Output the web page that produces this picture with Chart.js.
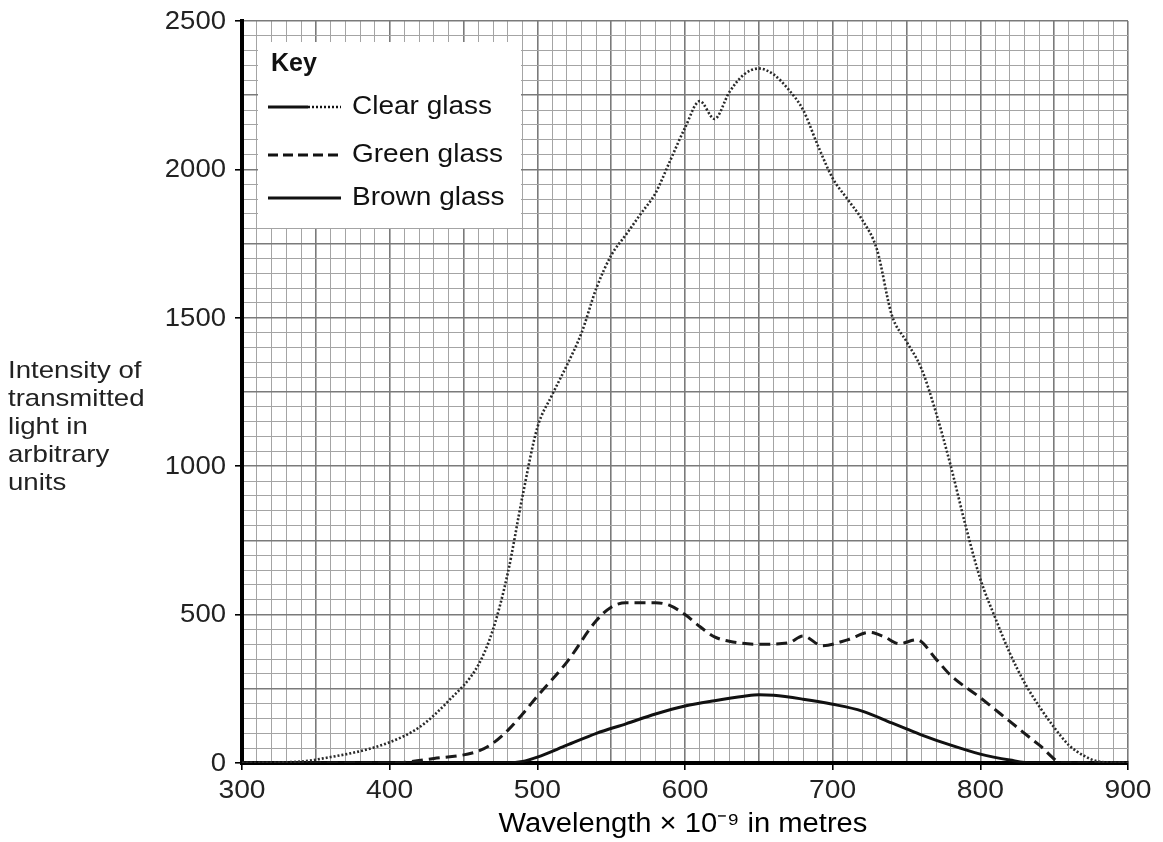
<!DOCTYPE html>
<html>
<head>
<meta charset="utf-8">
<script src="https://cdn.jsdelivr.net/npm/chart.js@4.4.1/dist/chart.umd.min.js"></script>
<style>
  html, body { margin: 0; padding: 0; background: #fff; }
  #wrap { width: 1163px; height: 842px; position: relative; }
</style>
</head>
<body>
<div id="wrap"><canvas id="grafico"></canvas></div>
<script>
// Datos (longitud de onda x 10^-9 m, intensidad)
const clearX = [300, 340, 360, 380, 400, 420, 440, 460, 470, 480, 490, 500, 510, 520, 530, 540, 550, 560, 570, 580, 590, 600, 610, 620, 630, 640, 650, 660, 670, 680, 690, 700, 710, 720, 730, 740, 750, 760, 770, 780, 790, 800, 810, 820, 830, 840, 850, 860, 870, 880, 900];
const clearY = [0, 5, 20, 40, 70, 120, 210, 330, 450, 640, 900, 1130, 1240, 1340, 1450, 1600, 1710, 1780, 1850, 1920, 2030, 2140, 2230, 2170, 2260, 2320, 2340, 2320, 2270, 2200, 2080, 1970, 1900, 1830, 1730, 1510, 1420, 1330, 1180, 1000, 800, 620, 490, 370, 270, 190, 120, 60, 25, 5, 0];

const greenX = [300, 400, 430, 460, 470, 480, 490, 500, 520, 540, 550, 560, 580, 590, 600, 610, 620, 630, 650, 670, 680, 693, 710, 725, 735, 745, 757, 770, 780, 800, 820, 840, 856, 900];
const greenY = [0, 0, 15, 40, 67, 110, 165, 225, 340, 480, 525, 540, 540, 530, 500, 460, 425, 410, 400, 405, 428, 395, 415, 440, 425, 402, 415, 350, 295, 220, 140, 60, 0, 0];

const brownX = [300, 480, 490, 500, 520, 540, 560, 580, 600, 620, 640, 650, 660, 680, 700, 720, 740, 750, 760, 780, 800, 820, 835, 900];
const brownY = [0, 0, 5, 20, 60, 100, 132, 165, 192, 210, 225, 230, 228, 215, 198, 175, 135, 115, 95, 60, 30, 10, 0, 0];

const xTicks = [300, 400, 500, 600, 700, 800, 900];
const yTicks = [0, 500, 1000, 1500, 2000, 2500];

const serieNombres = ['Clear glass', 'Green glass', 'Brown glass'];
const ejeYTitulo = ['Intensity of', 'transmitted', 'light in', 'arbitrary', 'units'];
const ejeXTitulo = 'Wavelength \u00d7 10\u207b\u2079 in metres';

const fuente = "'Liberation Sans', Arial, sans-serif";

function puntos(xs, ys) {
    return xs.map((x, i) => ({ x: x, y: ys[i] }));
}

// texto algo ensanchado, como en el original
function texto(ctx, s, x, y, size, sx, align, peso) {
    ctx.save();
    ctx.font = (peso || 'normal') + ' ' + size + 'px ' + fuente;
    ctx.textAlign = align;
    ctx.translate(x, y);
    ctx.scale(sx, 1);
    ctx.fillText(s, 0, 0);
    ctx.restore();
}

// Plugin: fondo, etiquetas, titulos y la caja "Key"
const extras = {
    id: 'extras',
    beforeDraw(chart) {
        const ctx = chart.ctx;
        ctx.save();
        ctx.fillStyle = '#fff';
        ctx.fillRect(0, 0, chart.width, chart.height);
        ctx.restore();
    },
    beforeDatasetsDraw(chart) {
        const ctx = chart.ctx;
        const sx = chart.scales.x, sy = chart.scales.y;
        ctx.save();
        ctx.textBaseline = 'alphabetic';

        // etiquetas de los ejes
        ctx.fillStyle = '#222';
        xTicks.forEach(v => texto(ctx, String(v), sx.getPixelForValue(v), 798, 25, 1.13, 'center'));
        ctx.textBaseline = 'middle';
        yTicks.forEach(v => texto(ctx, String(v), 226, sy.getPixelForValue(v) + 1, 25, 1.1, 'right'));

        // caja de la leyenda
        ctx.fillStyle = '#fff';
        ctx.fillRect(258, 42, 263, 186);
        ctx.fillStyle = '#111';
        texto(ctx, 'Key', 271, 64, 25, 1.0, 'left', 'bold');
        const ys = [107, 155, 198];
        ys.forEach((y, i) => texto(ctx, serieNombres[i], 352, y, 25, 1.12, 'left'));

        ctx.strokeStyle = '#111';
        ctx.lineWidth = 3;
        // clear glass: solido y luego punteado
        ctx.beginPath(); ctx.moveTo(268, 107); ctx.lineTo(308, 107); ctx.stroke();
        ctx.setLineDash([2, 2]); ctx.lineWidth = 2.5;
        ctx.beginPath(); ctx.moveTo(308, 107); ctx.lineTo(341, 107); ctx.stroke();
        ctx.setLineDash([10, 5]); ctx.lineWidth = 3;
        ctx.beginPath(); ctx.moveTo(268, 155); ctx.lineTo(341, 155); ctx.stroke();
        ctx.setLineDash([]);
        ctx.beginPath(); ctx.moveTo(268, 198); ctx.lineTo(341, 198); ctx.stroke();

        // titulo eje y
        ctx.fillStyle = '#222';
        ejeYTitulo.forEach((t, i) => texto(ctx, t, 8, 371 + i * 28, 24, 1.15, 'left'));
        // titulo eje x
        ctx.fillStyle = '#000';
        ctx.textBaseline = 'alphabetic';
        texto(ctx, ejeXTitulo, 683, 832, 27, 1.08, 'center');
        ctx.restore();
    }
};

function colorX(c) {
    const v = c.tick ? c.tick.value : 0;
    return v % 50 === 0 ? '#7a7a7a' : '#a4a4a4';
}
function colorY(c) {
    const v = c.tick ? c.tick.value : 0;
    return v % 250 === 0 ? '#7a7a7a' : '#a4a4a4';
}

new Chart(document.getElementById('grafico').getContext('2d'), {
    type: 'line',
    data: {
        datasets: [
            {
                label: serieNombres[0],
                data: puntos(clearX, clearY),
                borderColor: '#2a2a2a',
                borderWidth: 2.6,
                borderDash: [2, 2],
                pointRadius: 0,
                cubicInterpolationMode: 'monotone',
                fill: false
            },
            {
                label: serieNombres[1],
                data: puntos(greenX, greenY),
                borderColor: '#1a1a1a',
                borderWidth: 3,
                borderDash: [11, 6],
                pointRadius: 0,
                cubicInterpolationMode: 'monotone',
                fill: false
            },
            {
                label: serieNombres[2],
                data: puntos(brownX, brownY),
                borderColor: '#111',
                borderWidth: 3,
                pointRadius: 0,
                cubicInterpolationMode: 'monotone',
                fill: false
            }
        ]
    },
    options: {
        responsive: true,
        maintainAspectRatio: false,
        animation: false,
        layout: { padding: { left: 0, top: 21, right: 35, bottom: 0 } },
        plugins: {
            legend: { display: false },
            tooltip: { enabled: false }
        },
        scales: {
            x: {
                type: 'linear',
                min: 300,
                max: 900,
                afterFit: (s) => { s.height = 79; },
                border: { color: '#000', width: 4 },
                grid: {
                    color: colorX,
                    lineWidth: (c) => (c.tick && c.tick.value % 50 === 0 ? 1.6 : 1),
                    tickLength: 7,
                    tickColor: (c) => (c.tick && xTicks.includes(c.tick.value) ? '#000' : 'rgba(0,0,0,0)')
                },
                ticks: {
                    stepSize: 10,
                    autoSkip: false,
                    maxRotation: 0,
                    callback: () => ''
                }
            },
            y: {
                min: 0,
                max: 2500,
                afterFit: (s) => { s.width = 242; },
                border: { color: '#000', width: 4 },
                grid: {
                    color: colorY,
                    lineWidth: (c) => (c.tick && c.tick.value % 250 === 0 ? 1.6 : 1),
                    tickLength: 7,
                    tickColor: (c) => (c.tick && yTicks.includes(c.tick.value) ? '#000' : 'rgba(0,0,0,0)')
                },
                ticks: {
                    stepSize: 50,
                    autoSkip: false,
                    callback: () => ''
                }
            }
        }
    },
    plugins: [extras]
});
</script>
</body>
</html>
